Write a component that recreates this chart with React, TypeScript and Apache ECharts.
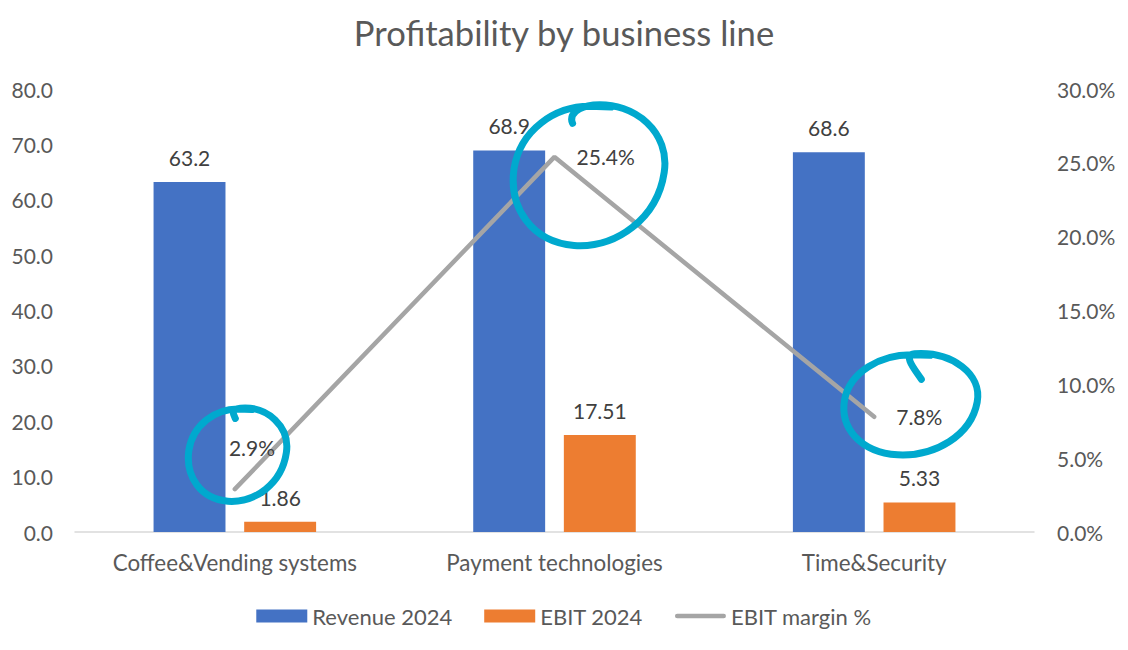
import React, { useEffect, useRef } from "react";
import * as echarts from "echarts";

const categories = ["Coffee&Vending systems", "Payment technologies", "Time&Security"];
const revenue2024 = [63.2, 68.9, 68.6];
const ebit2024 = [1.86, 17.51, 5.33];
const ebitMarginPct = [2.9, 25.4, 7.8];
const leftTicks = { min: 0, max: 80, interval: 10 };
const rightTicks = { min: 0, max: 30, interval: 5 };

const FONT = "Lato";
const TEXT = "#595959";
const LABEL = "#404040";
const CYAN = "#00A9CE";
const NUM_SIZE = 21;
const CAT_SIZE = 22.4;

function loopPath(rx: number, ry: number, hx: number, hy: number): string {
  const p = (x: number, y: number) => `${(x * rx).toFixed(1)},${(y * ry).toFixed(1)}`;
  return [
    `M${p(hx, hy)}`,
    `C${p(hx - 0.05, hy - 0.12)} ${p(-0.15, -0.98)} ${p(0.05, -1.0)}`,
    `C${p(0.6, -1.05)} ${p(1.05, -0.6)} ${p(0.97, -0.05)}`,
    `C${p(0.88, 0.6)} ${p(0.35, 1.02)} ${p(-0.2, 0.98)}`,
    `C${p(-0.75, 0.93)} ${p(-1.05, 0.45)} ${p(-0.98, -0.1)}`,
    `C${p(-0.9, -0.65)} ${p(-0.45, -0.98)} ${p(0.0, -0.98)}`,
    `L${p(0.28, -0.97)}`,
  ].join(" ");
}

// annotation loops: offset from the line point, radii and hook start (fractions of radii)
const loops = [
  [3, -34, 50, 47, -0.05, -0.78],
  [35, 19, 77, 71, -0.22, -0.74],
  [37, -12, 68, 51, 0.15, -0.5],
];

export default function App() {
  const ref = useRef<HTMLDivElement>(null);
  useEffect(() => {
    document.body.style.margin = "0";
    const chart = echarts.init(ref.current!, null, { renderer: "svg" });
    const option: any = {
      animation: false,
      backgroundColor: "#ffffff",
      textStyle: { fontFamily: FONT },
      title: {
        text: "Profitability by business line",
        left: "center",
        top: 10,
        textStyle: { fontFamily: FONT, fontSize: 34.6, fontWeight: "normal", color: TEXT },
      },
      grid: { left: 75, right: 94, top: 89, bottom: 118, containLabel: false },
      legend: {
        top: 600,
        left: "center",
        itemWidth: 51,
        itemHeight: 13,
        itemGap: 32,
        textStyle: { fontFamily: FONT, fontSize: 22, color: TEXT },
        data: [
          { name: "Revenue 2024", icon: "rect" },
          { name: "EBIT 2024", icon: "rect" },
          {
            name: "EBIT margin %",
            icon: "path://M2.5,0 L54.5,0 A2.5,2.5 0 0 1 54.5,5 L2.5,5 A2.5,2.5 0 0 1 2.5,0 Z",
          },
        ],
      },
      xAxis: {
        type: "category",
        data: categories,
        axisLine: { lineStyle: { color: "#D9D9D9", width: 1.5 } },
        axisTick: { show: false },
        axisLabel: { fontFamily: FONT, fontSize: CAT_SIZE, color: TEXT, margin: 19 },
      },
      yAxis: [
        {
          type: "value",
          ...leftTicks,
          axisLine: { show: false },
          axisTick: { show: false },
          splitLine: { show: false },
          axisLabel: {
            fontFamily: FONT,
            fontSize: NUM_SIZE,
            color: TEXT,
            margin: 22,
            formatter: (v: number) => v.toFixed(1),
          },
        },
        {
          type: "value",
          ...rightTicks,
          axisLine: { show: false },
          axisTick: { show: false },
          splitLine: { show: false },
          axisLabel: {
            fontFamily: FONT,
            fontSize: NUM_SIZE,
            color: TEXT,
            margin: 23,
            formatter: (v: number) => v.toFixed(1) + "%",
          },
        },
      ],
      series: [
        {
          name: "Revenue 2024",
          type: "bar",
          data: revenue2024,
          barWidth: "22.5%",
          barGap: "26%",
          itemStyle: { color: "#4472C4" },
          label: {
            show: true,
            position: "top",
            distance: 14,
            fontFamily: FONT,
            fontSize: NUM_SIZE,
            color: LABEL,
            formatter: (p: any) => Number(p.value).toFixed(1),
          },
        },
        {
          name: "EBIT 2024",
          type: "bar",
          data: ebit2024,
          barWidth: "22.5%",
          itemStyle: { color: "#ED7D31" },
          label: {
            show: true,
            position: "top",
            distance: 14,
            fontFamily: FONT,
            fontSize: NUM_SIZE,
            color: LABEL,
            formatter: (p: any) => Number(p.value).toFixed(2),
          },
        },
        {
          name: "EBIT margin %",
          type: "line",
          yAxisIndex: 1,
          color: "#A5A5A5",
          data: ebitMarginPct.map((v, i) =>
            i === 0 ? { value: v, label: { offset: [-28, -42] } } : v
          ),
          symbol: "circle",
          symbolSize: 0.1,
          showSymbol: true,
          itemStyle: { color: "#A5A5A5" },
          lineStyle: { color: "#A5A5A5", width: 4.5, cap: "round" },
          label: {
            show: true,
            position: "right",
            distance: 22,
            fontFamily: FONT,
            fontSize: NUM_SIZE,
            color: LABEL,
            formatter: (p: any) => Number(p.value).toFixed(1) + "%",
          },
        },
      ],
    };
    chart.setOption(option);

    const graphics: any[] = [];
    ebitMarginPct.forEach((v, i) => {
      const pt = chart.convertToPixel({ xAxisIndex: 0, yAxisIndex: 1 }, [i, v]) as number[];
      const [dx, dy, rx, ry, hx, hy] = loops[i];
      const name = "annotLoop" + i;
      const Shape = echarts.graphic.extendPath(loopPath(rx, ry, hx, hy) as any, {} as any);
      echarts.graphic.registerShape(name, Shape as any);
      graphics.push({
        type: name,
        x: pt[0] + dx,
        y: pt[1] + dy,
        silent: true,
        z: 100,
        style: { fill: "none", stroke: CYAN, lineWidth: 7, lineCap: "round", lineJoin: "round" },
      });
    });
    chart.setOption({ graphic: graphics });

    return () => chart.dispose();
  }, []);
  return <div ref={ref} style={{ width: 1128, height: 650 }} />;
}
